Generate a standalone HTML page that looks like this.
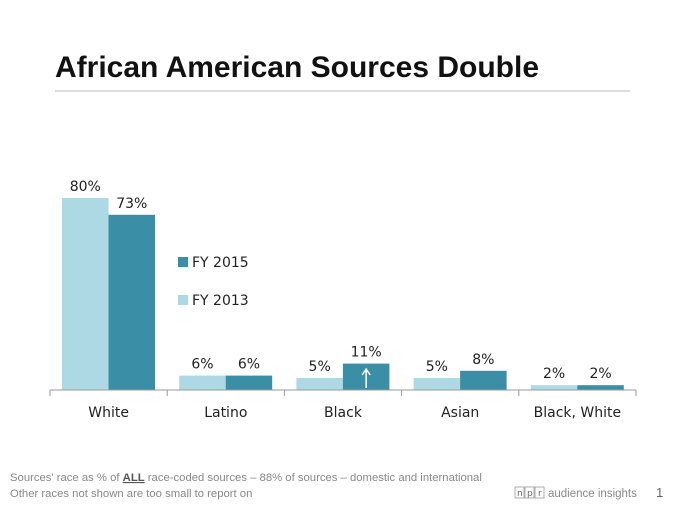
<!DOCTYPE html>
<html><head><meta charset="utf-8"><style>
body{margin:0;width:682px;height:502px;background:#fff;overflow:hidden;font-family:"Liberation Sans",sans-serif}
svg text{font-family:"DejaVu Sans","Liberation Sans",sans-serif}
</style></head><body>
<svg width="682" height="502">
<text x="55" y="77" font-size="30" font-weight="bold" fill="#111" style="font-family:'Liberation Sans',sans-serif">African American Sources Double</text>
<line x1="55" y1="91" x2="630" y2="91" stroke="#bbb" stroke-width="1"/>
<g id="plot"></g>
<g>
<rect x="178" y="257" width="10" height="10" fill="#3a8ea6"/>
<text x="192" y="267" font-size="14" fill="#222">FY 2015</text>
<rect x="178" y="295" width="10" height="10" fill="#acd9e3"/>
<text x="192" y="305" font-size="14" fill="#222">FY 2013</text>
</g>
<text x="10" y="481" font-size="11.3" fill="#888" style="font-family:'Liberation Sans',sans-serif">Sources' race as % of <tspan font-weight="bold" text-decoration="underline" fill="#555">ALL</tspan> race-coded sources – 88% of sources – domestic and international</text>
<text x="10" y="497" font-size="11.3" fill="#888" style="font-family:'Liberation Sans',sans-serif">Other races not shown are too small to report on</text>
<g>
<rect x="515" y="487" width="9" height="11" fill="none" stroke="#999" stroke-width="0.8"/><text x="517" y="496" font-size="9" fill="#666">n</text>
<rect x="525" y="487" width="9" height="11" fill="none" stroke="#999" stroke-width="0.8"/><text x="527" y="496" font-size="9" fill="#666">p</text>
<rect x="535" y="487" width="9" height="11" fill="none" stroke="#999" stroke-width="0.8"/><text x="538" y="496" font-size="9" fill="#666">r</text>
</g>
<text x="548" y="497" font-size="11.5" fill="#888" style="font-family:'Liberation Sans',sans-serif">audience insights</text>
<text x="656" y="497" font-size="13" fill="#666" style="font-family:'Liberation Sans',sans-serif">1</text>
</svg>
<script>
const categories=["White","Latino","Black","Asian","Black, White"];
const fy2013=[80,6,5,5,2];
const fy2015=[73,6,11,8,2];
const NS="http://www.w3.org/2000/svg";
const g=document.getElementById('plot');
const x0=50,cw=117.2,base=390,ppu=2.4;
const xs=i=>x0+i*cw;
const ys=v=>base-v*ppu;
function mk(t,a){const e=document.createElementNS(NS,t);for(const k in a)e.setAttribute(k,a[k]);g.appendChild(e);return e;}
categories.forEach((c,i)=>{
  const l=xs(i)+12,bw=46.5;
  let r=mk('rect',{x:l,y:ys(fy2013[i]),width:bw,height:base-ys(fy2013[i]),fill:'#acd9e3'});
  
  
  r=mk('rect',{x:l+bw,y:ys(fy2015[i]),width:bw,height:base-ys(fy2015[i]),fill:'#3a8ea6'});
  
  
  let t=mk('text',{x:l+bw/2,y:ys(fy2013[i])-7,'text-anchor':'middle','font-size':14,fill:'#222'});
  t.textContent=fy2013[i]+'%';
  
  
  t=mk('text',{x:l+bw*1.5,y:ys(fy2015[i])-7,'text-anchor':'middle','font-size':14,fill:'#222'});
  t.textContent=fy2015[i]+'%';
  
  
  t=mk('text',{x:xs(i)+cw/2,y:417,'text-anchor':'middle','font-size':14,fill:'#222'});
  t.textContent=c;
  
  
});
let ax=mk('line',{x1:x0,y1:base,x2:x0+5*cw,y2:base,stroke:'#999'});


for(let i=0;i<=5;i++){const tk=mk('line',{x1:xs(i),y1:base,x2:xs(i),y2:base+6,stroke:'#999'});

}
const ax2=xs(2)+12+46.5*1.5;
const ar=mk('path',{d:`M${ax2} ${base-2}V${base-20}M${ax2-4} ${base-15}L${ax2} ${base-21}L${ax2+4} ${base-15}`,stroke:'#fff','stroke-width':1.5,fill:'none'});


</script>
</body></html>
